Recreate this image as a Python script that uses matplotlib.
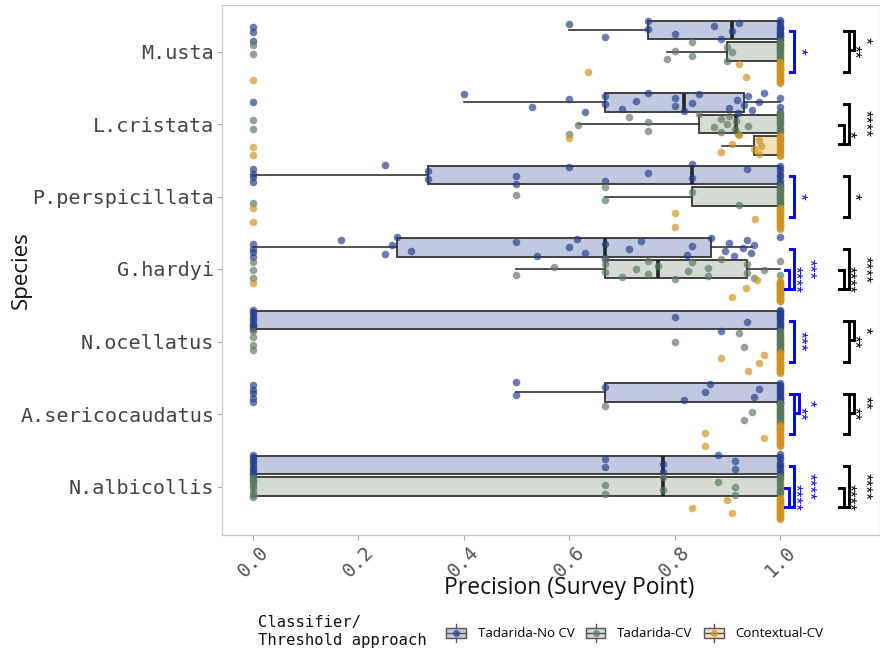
import numpy as np
import matplotlib
matplotlib.use("Agg")
import matplotlib.pyplot as plt
from matplotlib.legend_handler import HandlerBase
from matplotlib.patches import Rectangle, Patch
from matplotlib.lines import Line2D

# ---------------- data ----------------
species = ["M.usta", "L.cristata", "P.perspicillata", "G.hardyi",
           "N.ocellatus", "A.sericocaudatus", "N.albicollis"]
approaches = ["Tadarida-No CV", "Tadarida-CV", "Contextual-CV"]

# box statistics per approach: (whisker low, q1, median, q3, whisker high)
box_nocv = [(0.60, 0.75, 0.909, 1.0, 1.0),
            (0.40, 0.667, 0.817, 0.932, 1.0),
            (0.0, 0.333, 0.833, 1.0, 1.0),
            (0.0, 0.273, 0.667, 0.869, 0.946),
            (0.0, 0.0, 1.0, 1.0, 1.0),
            (0.50, 0.667, 1.0, 1.0, 1.0),
            (0.0, 0.0, 0.778, 1.0, 1.0)]
box_cv = [(0.786, 0.90, 1.0, 1.0, 1.0),
          (0.616, 0.846, 0.917, 1.0, 1.0),
          (0.667, 0.833, 1.0, 1.0, 1.0),
          (0.50, 0.667, 0.769, 0.937, 1.0),
          (1.0, 1.0, 1.0, 1.0, 1.0),
          (1.0, 1.0, 1.0, 1.0, 1.0),
          (0.0, 0.0, 0.778, 1.0, 1.0)]
box_ctx = [(1.0, 1.0, 1.0, 1.0, 1.0),
           (0.889, 0.95, 1.0, 1.0, 1.0),
           (1.0, 1.0, 1.0, 1.0, 1.0),
           (1.0, 1.0, 1.0, 1.0, 1.0),
           (1.0, 1.0, 1.0, 1.0, 1.0),
           (1.0, 1.0, 1.0, 1.0, 1.0),
           (1.0, 1.0, 1.0, 1.0, 1.0)]

# survey-point precision values
pts_nocv = [
    [0.0]*3 + [0.60, 0.667, 0.75, 0.75, 0.80, 0.875, 0.888, 0.909, 0.922] + [1.0]*12,
    [0.0]*1 + [0.40, 0.53, 0.60, 0.63, 0.667, 0.667, 0.70, 0.727, 0.75, 0.80, 0.80,
               0.817, 0.833, 0.846, 0.903, 0.919, 0.92, 0.932, 0.94, 0.947, 0.96, 0.97] + [1.0]*3,
    [0.0]*4 + [0.25, 0.333, 0.333, 0.50, 0.50, 0.60, 0.667, 0.75, 0.833, 0.833, 0.937] + [1.0]*8,
    [0.0]*4 + [0.167, 0.25, 0.264, 0.273, 0.30, 0.50, 0.538, 0.60, 0.615, 0.63, 0.667, 0.667,
               0.714, 0.736, 0.824, 0.833, 0.869, 0.895, 0.903, 0.912, 0.93, 0.937, 0.945, 0.95] + [1.0]*1,
    [0.0]*9 + [0.80, 0.888, 0.937] + [1.0]*14,
    [0.0]*5 + [0.50, 0.50, 0.667, 0.818, 0.857, 0.867, 0.95, 0.96] + [1.0]*14,
    [0.0]*9 + [0.667, 0.667, 0.778, 0.778, 0.882, 0.915, 0.915] + [1.0]*10,
]
pts_cv = [
    [0.0]*2 + [0.786, 0.80, 0.833, 0.833, 0.90, 0.90, 0.909] + [1.0]*16,
    [0.0]*2 + [0.60, 0.616, 0.714, 0.75, 0.75, 0.846, 0.875, 0.888, 0.888, 0.90, 0.903,
               0.915, 0.917, 0.92, 0.94] + [1.0]*12,
    [0.0]*1 + [0.50, 0.667, 0.667, 0.833, 0.922] + [1.0]*16,
    [0.0]*3 + [0.50, 0.571, 0.667, 0.667, 0.667, 0.70, 0.726, 0.75, 0.75, 0.769, 0.80, 0.826,
               0.833, 0.863, 0.863, 0.888, 0.937, 0.937, 0.95, 0.97] + [1.0]*2,
    [0.0]*4 + [0.80, 0.922, 0.932] + [1.0]*18,
    [0.667, 0.932, 0.947] + [1.0]*18,
    [0.0]*9 + [0.667, 0.667, 0.778, 0.778, 0.882, 0.915, 0.915] + [1.0]*10,
]
pts_ctx = [
    [0.0]*1 + [0.636, 0.922, 0.936] + [1.0]*20,
    [0.0]*2 + [0.60, 0.888, 0.909, 0.922, 0.95, 0.96, 0.96, 0.964] + [1.0]*14,
    [0.0]*2 + [0.80, 0.80, 0.953] + [1.0]*20,
    [0.0]*1 + [0.909, 0.935, 0.956] + [1.0]*24,
    [0.888, 0.94, 0.96, 0.97] + [1.0]*22,
    [0.857, 0.857, 0.97] + [1.0]*22,
    [0.833, 0.90, 0.909] + [1.0]*22,
]

# significance tests: (species, compared pair, label)
tests_blue = [("M.usta", "NoCV-Ctx", "*"),
              ("P.perspicillata", "NoCV-Ctx", "*"),
              ("G.hardyi", "NoCV-Ctx", "***"), ("G.hardyi", "CV-Ctx", "****"),
              ("N.ocellatus", "NoCV-Ctx", "***"),
              ("A.sericocaudatus", "NoCV-Ctx", "**"), ("A.sericocaudatus", "NoCV-CV", "*"),
              ("N.albicollis", "NoCV-Ctx", "****"), ("N.albicollis", "CV-Ctx", "****")]
tests_black = [("M.usta", "NoCV-Ctx", "**"), ("M.usta", "NoCV-CV", "*"),
               ("L.cristata", "NoCV-Ctx", "****"), ("L.cristata", "CV-Ctx", "*"),
               ("P.perspicillata", "NoCV-Ctx", "*"),
               ("G.hardyi", "NoCV-Ctx", "****"), ("G.hardyi", "CV-Ctx", "****"),
               ("N.ocellatus", "NoCV-Ctx", "**"), ("N.ocellatus", "NoCV-CV", "*"),
               ("A.sericocaudatus", "NoCV-Ctx", "**"), ("A.sericocaudatus", "NoCV-CV", "**"),
               ("N.albicollis", "NoCV-Ctx", "****"), ("N.albicollis", "CV-Ctx", "****")]

# ---------------- style ----------------
pt_colors = ["#24408E", "#5A7A5E", "#D0921C"]
fill_colors = ["#C2C8DF", "#D3DBD3", "#F2E0BF"]
MONO = "DejaVu Sans Mono"
SANS = ["Open Sans", "DejaVu Sans"]

fig = plt.figure(figsize=(8.8, 6.55), dpi=100)
W, H = 880, 655
ax = fig.add_axes([222 / W, 1 - 535 / H, (W - 222) / W, (535 - 5) / H])

dodge = 0.297
box_w = 0.255
jit = 0.15
ypos = np.arange(len(species))

all_boxes = [box_nocv, box_cv, box_ctx]
all_pts = [pts_nocv, pts_cv, pts_ctx]

for g in range(3):
    stats = []
    for s in all_boxes[g]:
        stats.append(dict(whislo=s[0], q1=s[1], med=s[2], q3=s[3], whishi=s[4], fliers=[]))
    pos = ypos + (g - 1) * dodge
    ax.bxp(stats, positions=pos, widths=box_w, vert=False, patch_artist=True,
           showcaps=False, showfliers=False,
           boxprops=dict(facecolor=fill_colors[g], edgecolor="#333333", linewidth=1.3),
           medianprops=dict(color="#222222", linewidth=2.6, solid_capstyle="butt"),
           whiskerprops=dict(color="#333333", linewidth=1.2),
           manage_ticks=False, zorder=2)

golden = 0.6180339887
for g in range(3):
    for i, vals in enumerate(all_pts[g]):
        vals = np.asarray(vals, dtype=float)
        k = np.arange(len(vals))
        off = jit * (2 * ((k * golden + 0.37 + 0.11 * i + 0.23 * g) % 1.0) - 1)
        y = ypos[i] + (g - 1) * dodge + off
        ax.scatter(vals, y, s=30, color=pt_colors[g], alpha=0.68, linewidths=0, zorder=3)

# significance brackets
group_idx = {"NoCV": 0, "CV": 1, "Ctx": 2}
shift = {"NoCV-Ctx": 0.0, "NoCV-CV": 0.0095, "CV-Ctx": -0.0095}
tip = 0.008


def draw_tests(tests, base, outer, color):
    for sp in species:
        items = [t for t in tests if t[0] == sp]
        items.sort(key=lambda t: shift[t[1]])
        i = species.index(sp)
        for n, (_, pair, lab) in enumerate(items):
            a, b = pair.split("-")
            y1 = i + (group_idx[a] - 1) * dodge + 0.02
            y2 = i + (group_idx[b] - 1) * dodge - 0.02
            x = base + shift[pair]
            ax.plot([x - tip, x, x, x - tip], [y1, y1, y2, y2], color=color, lw=2.1,
                    solid_joinstyle="miter", clip_on=False, zorder=4)
            if len(items) == 1 or n == 0:
                lx = x + 0.019
            else:
                lx = base + outer
            ax.text(lx - 0.008, (y1 + y2) / 2, lab, rotation=270, ha="center", va="center",
                    color=color, fontsize=12.5, family="Liberation Sans", clip_on=False, zorder=5)


draw_tests(tests_blue, 1.027, 0.037, "#0000FF")
draw_tests(tests_black, 1.130, 0.040, "#000000")

# axes styling
ax.set_xlim(-0.0588, (880 - 253) / 527)
ax.set_ylim(6 + (535 - 486.5) / 72.5, -(51.5 - 5) / 72.5)
ax.set_yticks(ypos)
ax.set_yticklabels(species, family=MONO, fontsize=14.5, color="#444444")
xt = [0.0, 0.2, 0.4, 0.6, 0.8, 1.0]
ax.set_xticks(xt)
ax.set_xticklabels([f"{v:.1f}" for v in xt], family=MONO, fontsize=14, color="#555555",
                   rotation=45, ha="center", va="top")
ax.tick_params(axis="both", length=3.5, width=0.8, color="#AAAAAA", pad=2)
for sp_ in ax.spines.values():
    sp_.set_color("#C8C8C8")
    sp_.set_linewidth(0.9)

ax.set_xlabel("Precision (Survey Point)", family=SANS, fontsize=16.5, color="#111111")
ax.xaxis.set_label_coords((569 - 222) / (W - 222), -(576 - 535) / (535 - 5))
ax.set_ylabel("Species", family=SANS, fontsize=16, color="#111111")
ax.yaxis.set_label_coords(-(222 - 32) / (W - 222), 0.5)


# legend
class BoxKey(HandlerBase):
    def __init__(self, fill, pcolor):
        super().__init__()
        self.fill = fill
        self.pcolor = pcolor

    def create_artists(self, legend, orig_handle, xdescent, ydescent, width, height,
                       fontsize, trans):
        x0, y0 = -xdescent, -ydescent
        cx, cy = x0 + width / 2, y0 + height / 2
        bw, bh = width, height * 0.5
        rect = Rectangle((cx - bw / 2, cy - bh / 2), bw, bh, facecolor=self.fill,
                         edgecolor="#555555", lw=1.0, transform=trans)
        med = Line2D([cx - bw / 2, cx + bw / 2], [cy, cy], color="#555555", lw=1.0, transform=trans)
        w1 = Line2D([cx, cx], [cy + bh / 2, y0 + height], color="#555555", lw=1.0, transform=trans)
        w2 = Line2D([cx, cx], [y0, cy - bh / 2], color="#555555", lw=1.0, transform=trans)
        pt = Line2D([cx], [cy], marker="o", markersize=5, color=self.pcolor, alpha=0.75,
                    markeredgewidth=0, transform=trans)
        return [rect, med, w1, w2, pt]


handles = [Patch(label=a) for a in approaches]
hmap = {h: BoxKey(fill_colors[i], pt_colors[i]) for i, h in enumerate(handles)}
leg = fig.legend(handles=handles, labels=approaches, handler_map=hmap, ncol=3,
                 loc="center left", bbox_to_anchor=(446 / W, 1 - 633 / H),
                 frameon=False, borderpad=0, borderaxespad=0,
                 handlelength=1.5, handleheight=1.8, handletextpad=0.9, columnspacing=0.85,
                 prop={"family": SANS, "size": 9.5})
fig.text(258 / W, 1 - 632 / H, "Classifier/\nThreshold approach", family=MONO, fontsize=11.2,
         ha="left", va="center", linespacing=1.25, color="#111111")

fig.savefig("out.png", dpi=100)
